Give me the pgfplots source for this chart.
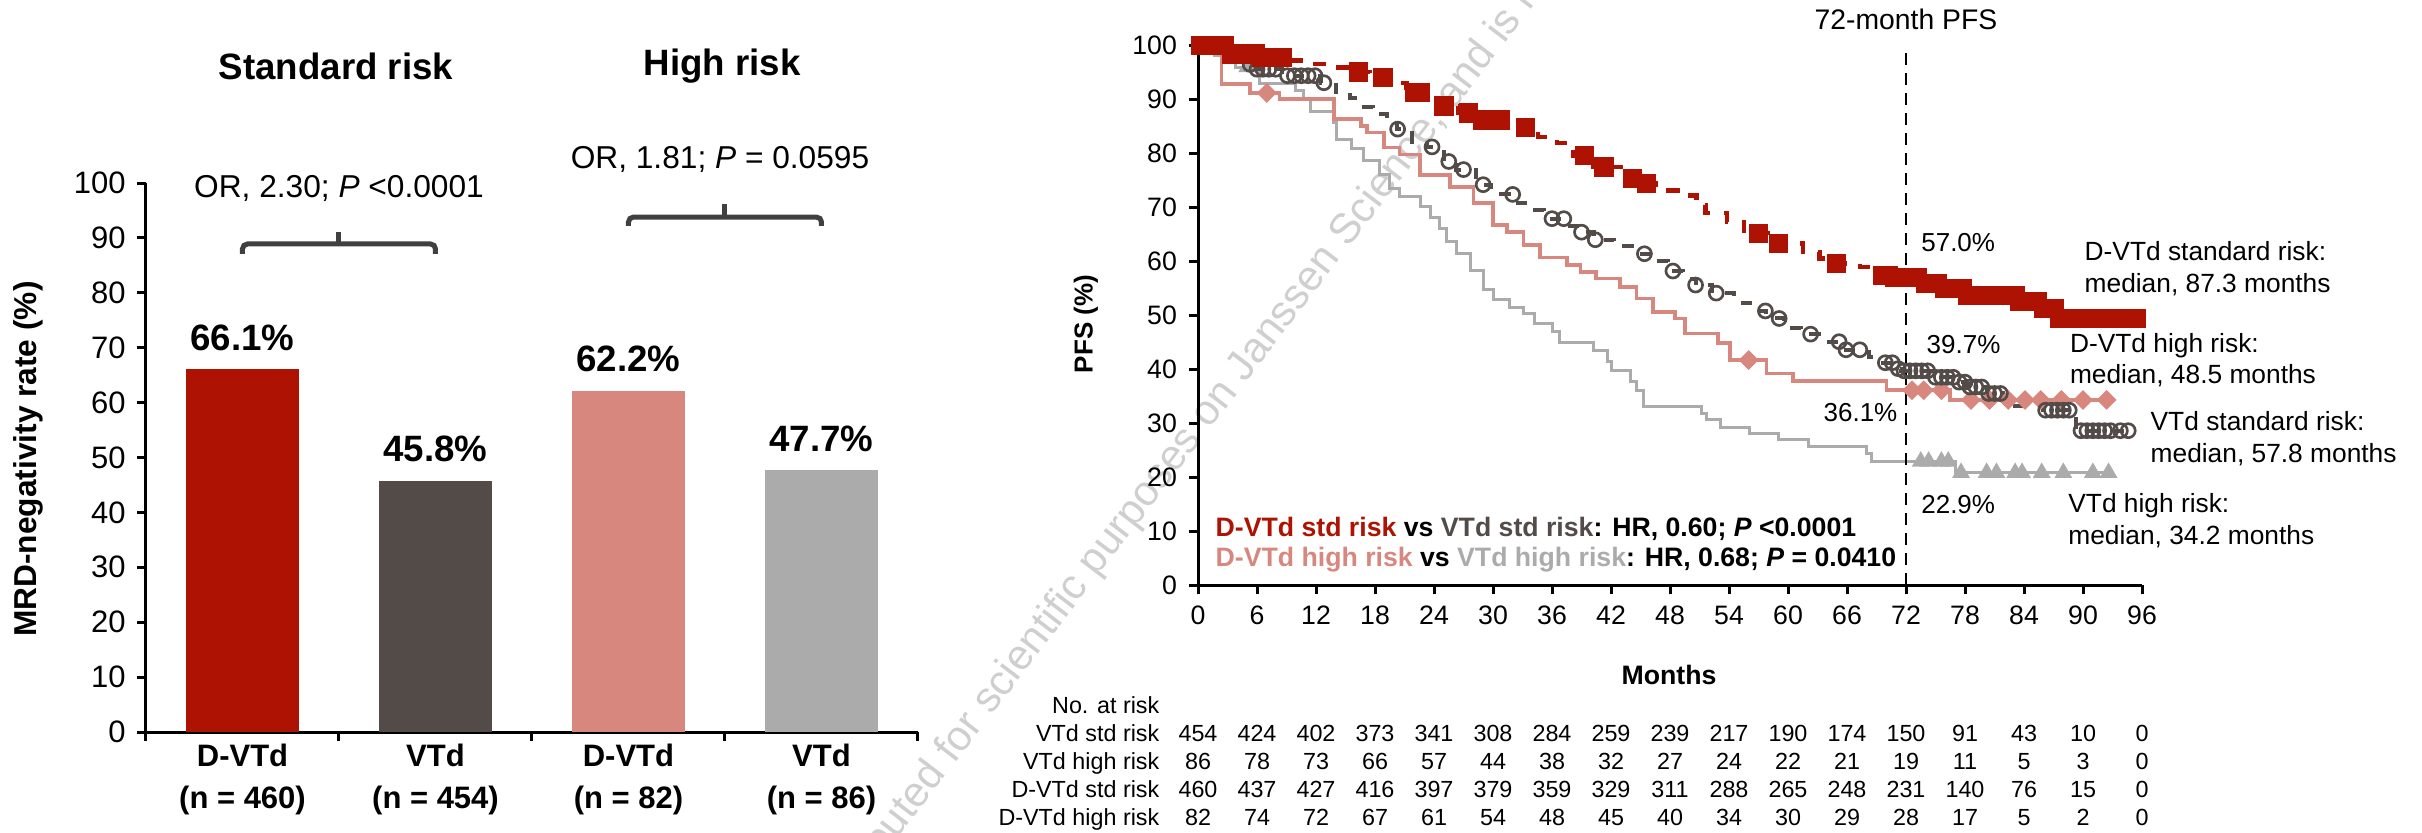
\documentclass[border=0pt]{standalone}
\usepackage{pgfplots}
\pgfplotsset{compat=1.18}
\usepackage{fontspec}
\setmainfont{Liberation Sans}
\definecolor{dred}{RGB}{174,18,3}
\definecolor{taupe}{RGB}{83,75,72}
\definecolor{salmon}{RGB}{216,135,126}
\definecolor{lgray}{RGB}{171,171,171}
\definecolor{brk}{RGB}{64,64,64}
\begin{document}
\begin{tikzpicture}
\path[use as bounding box] (0pt,0pt) rectangle (726.6pt,249.6pt);
% watermark
\node[rotate=52.6, text=black!19, font=\fontsize{12.7}{14}\selectfont, inner sep=0pt] at (356.5pt,117.6pt) {distributed for scientific purposes on Janssen Science, and is not};

%================ BAR CHART =================
\begin{axis}[
  at={(43.8pt,30pt)}, anchor=south west, scale only axis,
  width=231.6pt, height=164.7pt,
  xmin=-0.5, xmax=3.5, ymin=0, ymax=100,
  axis x line*=bottom, axis y line*=left,
  axis line style={line width=0.9pt,-},
  tick style={line width=0.9pt, black},
  tick align=outside,
  major tick length=2.6pt,
  ytick={0,10,...,100},
  xtick={-0.5,0.5,1.5,2.5,3.5}, xticklabels={},
  extra x ticks={0,1,2,3},
  extra x tick labels={{D-VTd\\(n = 460)},{VTd\\(n = 454)},{D-VTd\\(n = 82)},{VTd\\(n = 86)}},
  extra x tick style={major tick length=0pt},
  xticklabel style={align=center, font=\bfseries\fontsize{9.3}{12.6}\selectfont},
  yticklabel style={font=\fontsize{9.3}{11}\selectfont},
  /pgf/number format/assume math mode=true,
  clip=false,
  every node near coord/.append style={font=\bfseries\fontsize{11}{13}\selectfont, text=black, yshift=2pt},
]
\addplot[ybar, bar width=0.59, bar shift=0pt, fill=dred, draw=none, nodes near coords, point meta=explicit symbolic] coordinates {(0,66.1) [66.1\%]};
\addplot[ybar, bar width=0.59, bar shift=0pt, fill=taupe, draw=none, nodes near coords, point meta=explicit symbolic] coordinates {(1,45.8) [45.8\%]};
\addplot[ybar, bar width=0.59, bar shift=0pt, fill=salmon, draw=none, nodes near coords, point meta=explicit symbolic] coordinates {(2,62.2) [62.2\%]};
\addplot[ybar, bar width=0.59, bar shift=0pt, fill=lgray, draw=none, nodes near coords, point meta=explicit symbolic] coordinates {(3,47.7) [47.7\%]};
% brackets
\draw[brk, line width=1.5pt, rounded corners=1.5pt] (axis cs:0,87.1) -- (axis cs:0,88.9) -- (axis cs:1,88.9) -- (axis cs:1,87.1);
\draw[brk, line width=1.5pt] (axis cs:0.5,88.9) -- (axis cs:0.5,91.1);
\draw[brk, line width=1.5pt, rounded corners=1.5pt] (axis cs:2,92.2) -- (axis cs:2,93.8) -- (axis cs:3,93.8) -- (axis cs:3,92.2);
\draw[brk, line width=1.5pt] (axis cs:2.5,93.8) -- (axis cs:2.5,96.2);
\end{axis}
\node[rotate=90, font=\bfseries\fontsize{9.5}{11}\selectfont] at (8.6pt,111.9pt) {MRD-negativity rate (\%)};
\node[font=\bfseries\fontsize{11}{13}\selectfont] at (100.8pt,229.7pt) {Standard risk};
\node[font=\bfseries\fontsize{11}{13}\selectfont] at (216.6pt,229.7pt) {High risk};
\node[anchor=base, inner sep=0pt, font=\fontsize{9.5}{11}\selectfont] at (101.7pt,190.4pt) {OR, 2.30; \textit{P} <0.0001};
\node[anchor=base, inner sep=0pt, font=\fontsize{9.5}{11}\selectfont] at (216pt,199.1pt) {OR, 1.81; \textit{P} = 0.0595};

%================ KM CHART =================
\begin{axis}[
  at={(359.4pt,74.1pt)}, anchor=south west, scale only axis,
  width=283.2pt, height=161.85pt,
  xmin=0, xmax=96, ymin=0, ymax=100,
  axis x line*=bottom, axis y line*=left,
  axis line style={line width=0.9pt,-},
  tick style={line width=0.9pt, black},
  tick align=outside, major tick length=2.8pt,
  xtick={0,6,...,96}, ytick={0,10,...,100},
  tick label style={font=\fontsize{8}{9.6}\selectfont},
  /pgf/number format/assume math mode=true,
  clip=false,
]
% VTd high risk
\addplot[const plot, lgray, line width=0.9pt] coordinates {
(0,100) (1.7,98.2) (3.8,96.0) (6.3,93.0) (9.9,91.7) (10.7,90.2) (11.4,87.8) (13.8,85.7) (14.1,82.5) (15.6,81.0) (16.8,78.6) (18.5,76.0) (19.5,73.5) (20.5,72.1) (22.6,70.2) (23.6,68.2) (24.6,66.1) (25.3,63.6) (26.3,61.4) (27.7,58.3) (29.0,54.8) (30.0,53.0) (31.7,51.5) (33.1,50.3) (34.2,48.5) (36.0,46.9) (36.8,45.0) (40.2,43.5) (41.6,41.4) (42.1,39.8) (44.0,37.7) (44.6,36.1) (45.3,33.0) (51.2,31.8) (51.7,30.6) (53.1,29.2) (56.1,28.1) (59.0,27.0) (62.1,25.7) (68.0,24.4) (68.5,22.9) (77.0,20.8) (93.1,20.8)};
\addplot[only marks, mark=triangle*, mark size=2.7pt, color=lgray] coordinates {
(5.0,96.0) (73.5,22.9) (74.3,22.9) (75.6,22.9) (76.3,22.9) (77.6,20.8) (80.2,20.8) (81.2,20.8) (83.1,20.8) (83.8,20.8) (85.8,20.8) (88.0,20.8) (91.0,20.8) (92.6,20.8)};
% D-VTd high risk
\addplot[const plot, salmon, line width=1.1pt] coordinates {
(0,100) (1.7,98.6) (2.4,92.9) (5.3,91.2) (8.3,90.1) (13.8,86.4) (16.6,85.1) (17.2,83.9) (18.9,81.1) (20.5,79.8) (22.6,76.0) (25.6,73.8) (28.0,70.8) (30.0,66.7) (31.4,65.4) (33.1,63.0) (34.8,60.7) (37.5,59.3) (38.9,58.0) (40.5,56.8) (42.9,55.2) (44.6,53.1) (46.3,50.6) (48.5,49.4) (49.5,46.6) (52.9,44.8) (54.1,41.7) (57.8,39.2) (60.5,37.8) (70.0,36.1) (76.5,34.3) (93.1,34.3)};
\addplot[only marks, mark=square*, mark size=1.9pt, mark options={rotate=45}, color=salmon] coordinates {
(7.0,91.2) (56.0,41.7) (72.6,36.1) (73.8,36.1) (75.6,36.1) (78.6,34.3) (80.5,34.3) (82.4,34.3) (84.1,34.3) (85.7,34.3) (87.8,34.3) (90.0,34.3) (92.4,34.3)};
% VTd standard risk
\addplot[const plot, taupe, line width=1.2pt, dash pattern=on 3.5pt off 4pt] coordinates {
(0,100) (1.5,99.3) (3.0,98.0) (4.5,96.5) (5.5,95.6) (8.5,94.4) (12.5,93.1) (14.0,91.3) (15.5,90.2) (16.5,88.6) (17.8,87.3) (19.2,86.2) (20.2,84.5) (21.8,82.2) (23.3,81.2) (25.0,78.5) (26.2,77.0) (28.3,74.2) (29.8,72.4) (32.5,70.8) (33.5,69.5) (35.2,67.9) (37.5,66.6) (38.8,65.4) (40.3,64.0) (42.3,62.8) (44.7,61.4) (46.3,60.0) (47.8,58.2) (49.3,56.8) (50.6,55.6) (52.3,54.1) (54.5,53.2) (55.4,52.3) (56.5,50.8) (57.8,49.4) (59.6,47.6) (61.3,46.5) (63.8,45.1) (65.6,43.6) (68.2,42.3) (69.2,41.2) (70.8,40.1) (71.5,39.7) (74.8,38.5) (77.0,37.6) (78.2,36.7) (80.2,35.5) (81.9,33.2) (85.9,32.4) (89.3,28.6) (95.1,28.6)};
\addplot[only marks, mark=o, mark size=2.1pt, mark options={line width=0.8pt}, color=taupe] coordinates {
(5.3,96.5) (6.0,95.6) (6.6,95.6) (7.2,95.6) (7.9,95.6) (9.1,94.4) (9.8,94.4) (10.5,94.4) (11.2,94.4) (11.9,94.4) (12.8,93.1) (20.3,84.5) (23.8,81.2) (25.5,78.5) (27.0,77.0) (29.0,74.2) (32.0,72.4) (36.0,67.9) (37.2,67.9) (39.0,65.4) (40.4,64.0) (45.4,61.4) (48.3,58.2) (50.6,55.6) (52.7,54.1) (57.7,50.8) (59.1,49.4) (62.3,46.5) (65.2,45.1) (65.9,43.6) (67.3,43.6) (69.9,41.2) (70.6,41.2) (71.2,40.1) (71.8,39.7) (72.4,39.7) (73.0,39.7) (73.6,39.7) (74.2,39.7) (75.0,38.5) (75.6,38.5) (76.2,38.5) (76.8,38.5) (77.4,37.6) (78.0,37.6) (78.5,36.7) (79.1,36.7) (79.7,36.7) (80.4,35.5) (81.0,35.5) (81.6,35.5) (86.2,32.4) (86.8,32.4) (87.4,32.4) (88.0,32.4) (88.6,32.4) (89.8,28.6) (90.4,28.6) (91.0,28.6) (91.6,28.6) (92.2,28.6) (92.8,28.6) (93.8,28.6) (94.6,28.6)};
% D-VTd standard risk
\addplot[const plot, dred, line width=1.3pt, dash pattern=on 4pt off 4pt] coordinates {
(0,100) (3.0,98.4) (6.0,97.8) (9.0,97.2) (11.0,96.6) (13.4,95.9) (15.5,95.1) (17.5,94.1) (19.2,93.1) (21.2,91.3) (22.9,90.3) (24.3,88.8) (26.5,87.5) (28.7,86.2) (32.8,84.8) (34.6,83.1) (36.5,81.9) (38.2,79.6) (40.2,77.5) (43.3,75.4) (45.0,74.4) (46.6,73.1) (49.0,72.2) (50.7,70.4) (51.6,68.9) (53.8,67.3) (55.5,65.2) (58.5,63.3) (61.5,61.7) (63.2,60.5) (64.5,59.6) (67.3,58.9) (69.4,57.4) (70.5,57.0) (73.8,55.9) (75.8,54.9) (78.0,53.7) (83.3,52.5) (85.9,51.3) (87.3,49.4) (95.4,49.4)};
\addplot[only marks, mark=square*, mark size=2.7pt, color=dred] coordinates {
(0.3,100) (0.9,100) (1.5,100) (2.1,100) (2.7,100) (3.4,98.4) (4.0,98.4) (4.6,98.4) (5.2,98.4) (5.8,98.4) (6.5,97.8) (7.2,97.8) (7.9,97.8) (8.6,97.8) (16.3,95.1) (18.8,94.1) (22.0,91.3) (22.6,91.3) (25.0,88.8) (27.5,87.5) (28.9,86.2) (29.8,86.2) (30.7,86.2) (33.3,84.8) (39.3,79.6) (41.3,77.5) (44.2,75.4) (45.6,74.4) (57.0,65.2) (59.0,63.3) (64.9,59.6) (69.6,57.4) (70.2,57.4) (70.8,57.0) (71.4,57.0) (72.0,57.0) (72.6,57.0) (73.2,57.0) (74.0,55.9) (74.6,55.9) (75.2,55.9) (75.9,54.9) (76.5,54.9) (77.1,54.9) (77.7,54.9) (78.3,53.7) (78.9,53.7) (79.5,53.7) (80.1,53.7) (80.7,53.7) (81.3,53.7) (81.9,53.7) (82.5,53.7) (83.1,53.7) (83.6,52.5) (84.2,52.5) (84.8,52.5) (85.4,52.5) (86.0,51.3) (86.6,51.3) (87.1,51.3) (87.6,49.4) (88.2,49.4) (88.8,49.4) (89.4,49.4) (90.0,49.4) (90.6,49.4) (91.2,49.4) (91.8,49.4) (92.4,49.4) (93.0,49.4) (93.6,49.4) (94.2,49.4) (94.8,49.4) (95.4,49.4)};
\draw[black, line width=0.7pt, dash pattern=on 3.5pt off 2.5pt] (axis cs:72,0) -- (axis cs:72,99.5);
\end{axis}
% KM texts
\node[anchor=base, inner sep=0pt, font=\fontsize{8.5}{10}\selectfont] at (571.8pt,240.6pt) {72-month PFS};
\begin{scope}[every node/.style={inner sep=0pt, font=\fontsize{7.8}{9}\selectfont}]
\node[anchor=base west] at (576.2pt,174.1pt) {57.0\%};
\node[anchor=base west] at (577.8pt,143.6pt) {39.7\%};
\node[anchor=base east] at (569.4pt,123.1pt) {36.1\%};
\node[anchor=base west] at (576.2pt,95.6pt) {22.9\%};
\end{scope}
\begin{scope}[every node/.style={inner sep=0pt, anchor=base west, font=\fontsize{7.9}{9.5}\selectfont}]
\node at (625.2pt,171.4pt) {D-VTd standard risk:};
\node at (625.2pt,161.8pt) {median, 87.3 months};
\node at (620.8pt,143.8pt) {D-VTd high risk:};
\node at (620.8pt,134.4pt) {median, 48.5 months};
\node at (645pt,120.4pt) {VTd standard risk:};
\node at (645pt,110.8pt) {median, 57.8 months};
\node at (620.3pt,95.8pt) {VTd high risk:};
\node at (620.3pt,86.4pt) {median, 34.2 months};
\end{scope}
\begin{scope}[every node/.style={inner sep=0pt, anchor=base west, font=\bfseries\fontsize{8}{9.6}\selectfont}]
\node at (364.5pt,88.6pt) {\textcolor{dred}{D-VTd std risk} vs \textcolor{taupe}{VTd std risk}: HR, 0.60; \textit{P} <0.0001};
\node at (364.5pt,79.6pt) {\textcolor{salmon}{D-VTd high risk} vs \textcolor{lgray}{VTd high risk}: HR, 0.68; \textit{P} = 0.0410};
\end{scope}
\node[anchor=base, inner sep=0pt, font=\bfseries\fontsize{8}{9.6}\selectfont] at (500.7pt,44.2pt) {Months};
\node[rotate=90, font=\bfseries\fontsize{7.8}{9.4}\selectfont] at (325.8pt,152.4pt) {PFS (\%)};
% number at risk table
\begin{scope}[every node/.style={inner sep=0pt, font=\fontsize{7}{8.4}\selectfont}]
\node[anchor=base east] at (348pt,35.7pt) {No. at risk};
\foreach \lab/\yy/\vals in {
  {VTd std risk}/27.3pt/{454,424,402,373,341,308,284,259,239,217,190,174,150,91,43,10,0},
  {VTd high risk}/18.9pt/{86,78,73,66,57,44,38,32,27,24,22,21,19,11,5,3,0},
  {D-VTd std risk}/10.5pt/{460,437,427,416,397,379,359,329,311,288,265,248,231,140,76,15,0},
  {D-VTd high risk}/2.1pt/{82,74,72,67,61,54,48,45,40,34,30,29,28,17,5,2,0}}{
  \node[anchor=base east] at (348pt,\yy) {\lab};
  \foreach \v [count=\i from 0] in \vals {
    \node[anchor=base] at ({359.4pt+17.7pt*\i},\yy) {\v};
  }
}
\end{scope}
\end{tikzpicture}
\end{document}
